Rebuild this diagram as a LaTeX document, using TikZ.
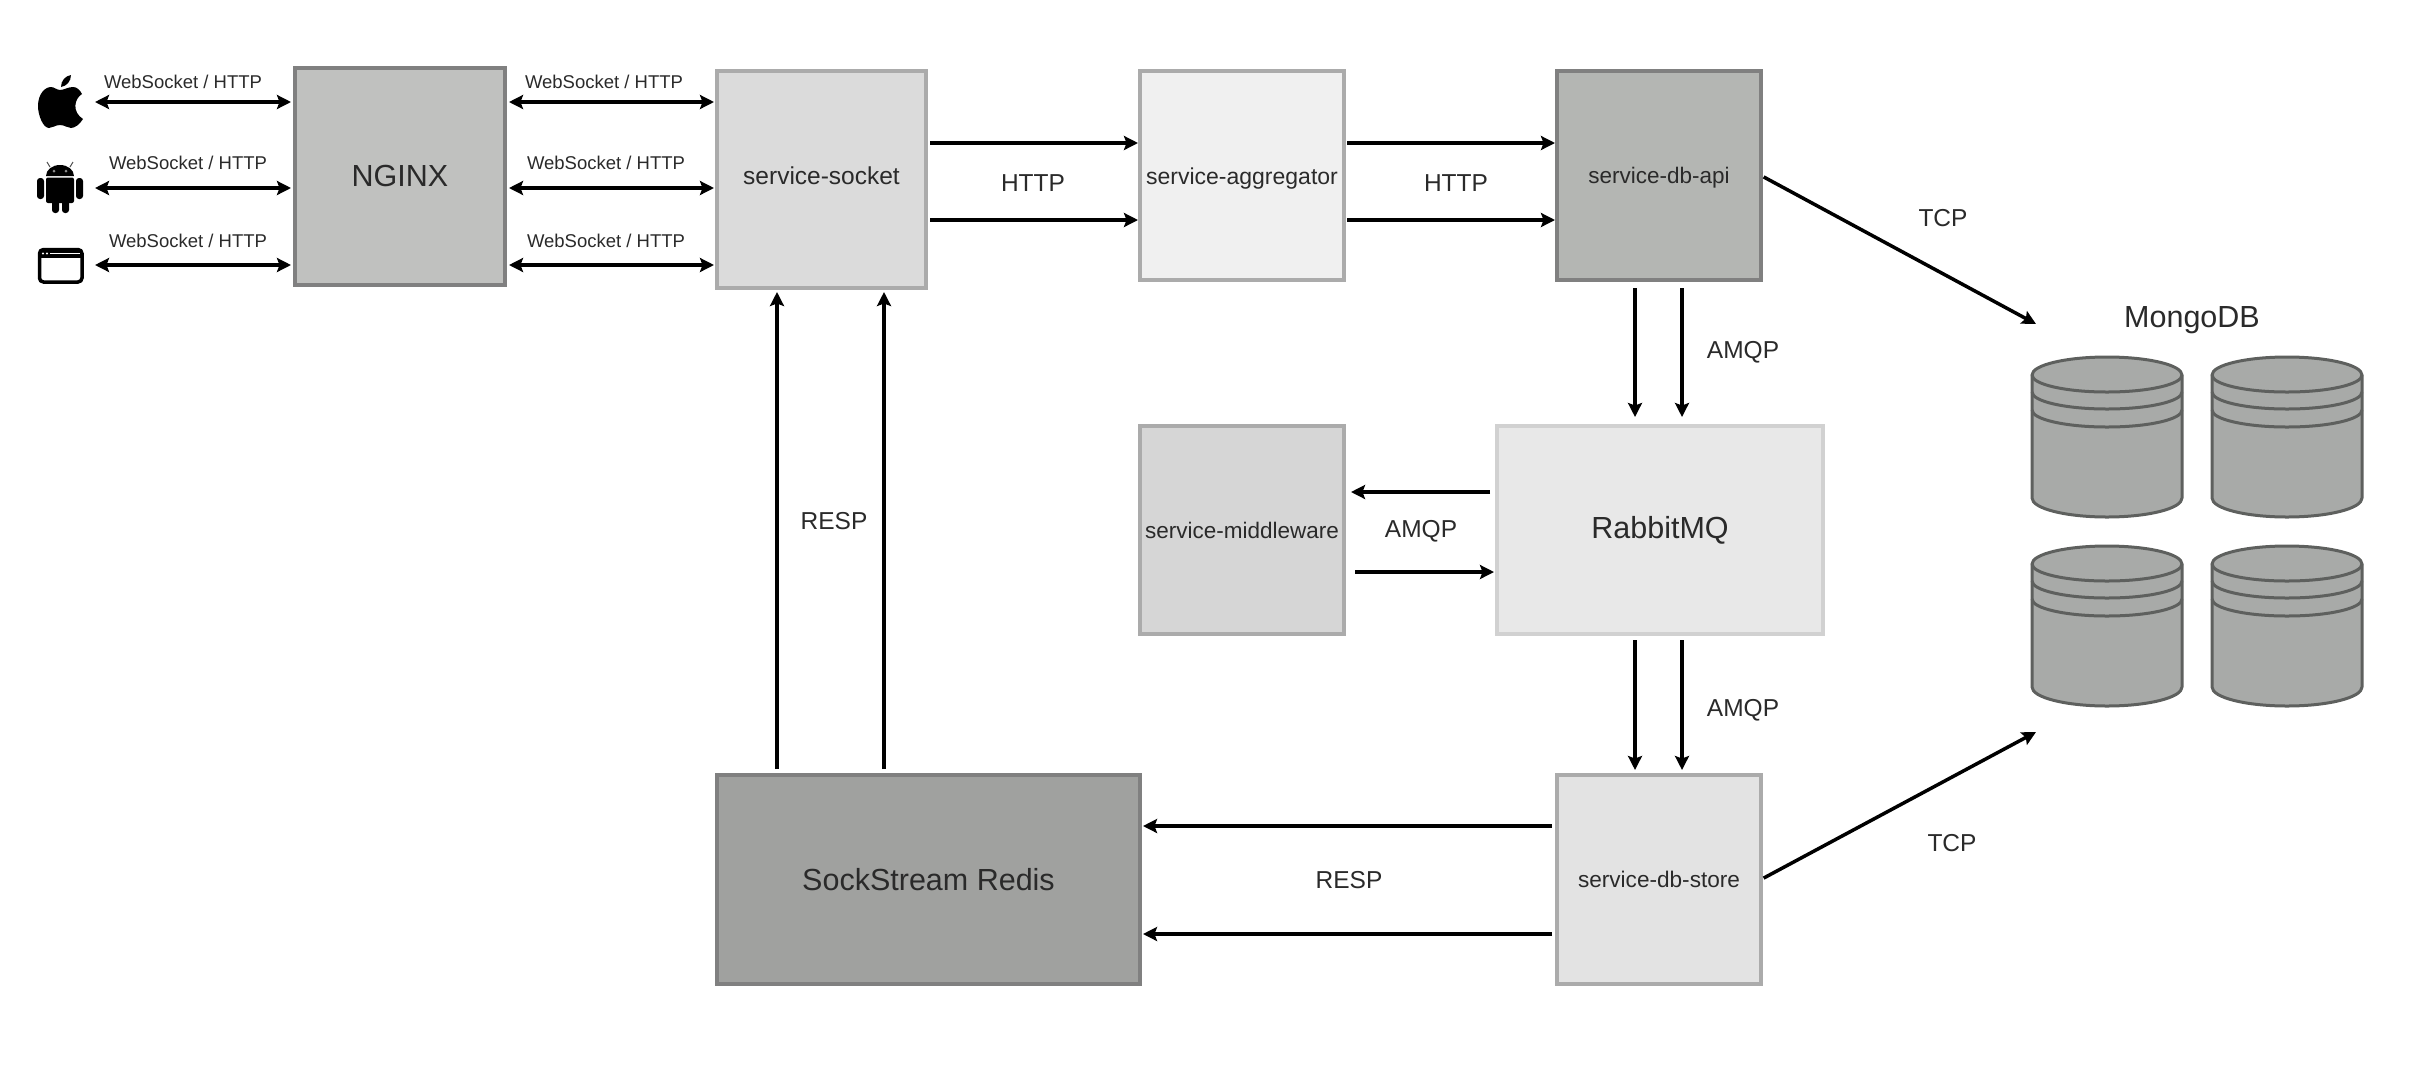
\documentclass[tikz,border=0pt]{standalone}
\usepackage{fontspec}
\setmainfont{Liberation Sans}
\usetikzlibrary{arrows.meta}
\definecolor{ink}{HTML}{2A2A2A}
\definecolor{cylfill}{HTML}{A8AAA8}
\definecolor{cylline}{HTML}{5E605E}
\tikzset{
  x=1pt,y=-1pt,
  box/.style={draw,rectangle,line width=3.5pt,outer sep=0pt,inner sep=0pt,text=ink},
  big/.style={font=\fontsize{30.5}{36}\selectfont},
  lab/.style={inner sep=0pt,text=ink,font=\fontsize{24.5}{28}\selectfont},
  wlab/.style={inner sep=0pt,text=ink,font=\fontsize{18.5}{22}\selectfont},
  tipa/.tip={Stealth[length=14pt,width=14pt,inset=2.5pt]},
  arr/.style={line width=3.5pt,black,-tipa},
  darr/.style={line width=3.5pt,black,tipa-tipa},
  dbcyl/.pic={
    \path[fill=cylfill,draw=cylline,line width=3pt,line join=round]
      (0,18) -- (0,141) arc[start angle=180,end angle=360,x radius=75pt,y radius=19pt]
      -- (150,18) arc[start angle=0,end angle=180,x radius=75pt,y radius=18pt] -- cycle;
    \draw[cylline,line width=3pt] (0,18) arc[start angle=180,end angle=360,x radius=75pt,y radius=17pt];
    \draw[cylline,line width=3pt] (0,35) arc[start angle=180,end angle=360,x radius=75pt,y radius=17pt];
    \draw[cylline,line width=3pt] (0,53) arc[start angle=180,end angle=360,x radius=75pt,y radius=17pt];
  }
}
\begin{document}
\begin{tikzpicture}
\useasboundingbox (0,0) rectangle (2412,1072);

% boxes
\node[box,big,draw={rgb:black,1;white,1},fill={rgb,255:red,192;green,193;blue,191},text height=22pt,text depth=3pt,minimum width=210pt,minimum height=217pt] (nginx) at (400,176.5) {NGINX};
\node[box,draw=black!33,fill=black!14,font=\fontsize{24.5}{28}\selectfont,text height=17.5pt,text depth=8pt,minimum width=209pt,minimum height=217pt] (sock) at (821.5,179.5) {service-socket};
\node[box,draw=black!33,fill=black!6,font=\fontsize{23}{28}\selectfont,text height=23.5pt,text depth=5pt,minimum width=204pt,minimum height=209pt] (agg) at (1242,175.5) {service-aggregator};
\node[box,draw=black!50,fill={rgb,255:red,180;green,182;blue,179},font=\fontsize{22.5}{28}\selectfont,text height=21pt,text depth=5pt,minimum width=204pt,minimum height=209pt] (api) at (1659,175.5) {service-db-api};
\node[box,big,draw=black!18,fill=black!9,minimum width=326pt,minimum height=208pt] (rabbit) at (1660,530) {RabbitMQ};
\node[box,draw=black!33,fill=black!16,font=\fontsize{22.5}{28}\selectfont,minimum width=204pt,minimum height=208pt] (mid) at (1242,530) {service-middleware};
\node[box,big,draw=black!50,fill={rgb,255:red,160;green,161;blue,159},minimum width=423pt,minimum height=209pt] (redis) at (928.5,879.5) {SockStream Redis};
\node[box,draw=black!33,fill=black!11,font=\fontsize{22.6}{28}\selectfont,minimum width=204pt,minimum height=209pt] (store) at (1659,879.5) {service-db-store};

% free-end coordinates
\coordinate (ios) at (95,102);
\coordinate (android) at (95,188);
\coordinate (web) at (95,265);
\coordinate (h1) at (0,143);
\coordinate (h2) at (0,220);
\coordinate (v1) at (1635,0);
\coordinate (v2) at (1682,0);
\coordinate (m1) at (0,492);
\coordinate (m2) at (0,572);
\coordinate (r1) at (777,0);
\coordinate (r2) at (884,0);
\coordinate (s1) at (0,826);
\coordinate (s2) at (0,934);
\coordinate (mongoA) at (2036,324);
\coordinate (mongoB) at (2036,732);

% client <-> nginx <-> socket
\foreach \c in {ios,android,web}{
  \draw[darr,shorten >=4pt] (\c) -- (\c -| nginx.west);
  \draw[darr,shorten <=4pt,shorten >=3pt] (\c -| nginx.east) -- (\c -| sock.west);
}
\node[wlab] (w1) at (183,82) {WebSocket / HTTP};
\node[wlab] (w2) at (188,163) {WebSocket / HTTP};
\node[wlab] (w3) at (188,241) {WebSocket / HTTP};
\node[wlab] (w4) at (604,82) {WebSocket / HTTP};
\node[wlab] (w5) at (606,163) {WebSocket / HTTP};
\node[wlab] (w6) at (606,241) {WebSocket / HTTP};

% http
\foreach \c in {h1,h2}{
  \draw[arr,shorten <=4pt,shorten >=2pt] (\c -| sock.east) -- (\c -| agg.west);
  \draw[arr,shorten <=3pt,shorten >=2pt] (\c -| agg.east) -- (\c -| api.west);
}
\node[lab] (l1) at (1033,183) {HTTP};
\node[lab] (l2) at (1456,183) {HTTP};

% amqp
\foreach \c in {v1,v2}{
  \draw[arr,shorten <=8pt,shorten >=9pt] (\c |- api.south) -- (\c |- rabbit.north);
  \draw[arr,shorten <=6pt,shorten >=5pt] (\c |- rabbit.south) -- (\c |- store.north);
}
\node[lab] (l3) at (1743,352) {AMQP};
\node[lab] (l4) at (1743,710) {AMQP};
\draw[arr,shorten <=7pt,shorten >=7pt] (m1 -| rabbit.west) -- (m1 -| mid.east);
\draw[arr,shorten <=11pt,shorten >=3pt] (m2 -| mid.east) -- (m2 -| rabbit.west);
\node[lab] (l5) at (1421,531) {AMQP};

% resp
\foreach \c in {r1,r2}{
  \draw[arr,shorten <=6pt,shorten >=4pt] (\c |- redis.north) -- (\c |- sock.south);
}
\node[lab] (l6) at (834,521) {RESP};
\foreach \c in {s1,s2}{
  \draw[arr,shorten <=5pt,shorten >=3pt] (\c -| store.west) -- (\c -| redis.east);
}
\node[lab] (l7) at (1349,880) {RESP};

% tcp
\draw[arr,shorten <=3pt] (api.east) -- (mongoA);
\draw[arr,shorten <=3pt] (store.east) -- (mongoB);
\node[lab] (l8) at (1943,218) {TCP};
\node[lab] (l9) at (1952,843) {TCP};

% mongo
\node[inner sep=0pt,text=ink,font=\fontsize{30.5}{36}\selectfont] (mongo) at (2192,320) {MongoDB};
\pic at (2032,357) {dbcyl};
\pic at (2212,357) {dbcyl};
\pic at (2032,546) {dbcyl};
\pic at (2212,546) {dbcyl};

% apple icon
\fill[black] (60,90) .. controls (64,90) and (68,87) .. (73,87)
  .. controls (77,87) and (80,90) .. (82,94)
  .. controls (74,99) and (72,112) .. (83,119)
  .. controls (80,124) and (75,128) .. (71,128)
  .. controls (67,128) and (65,125) .. (60,125)
  .. controls (55,125) and (53,128) .. (49,128)
  .. controls (43,128) and (38,115) .. (38,106)
  .. controls (38,94) and (45,87) .. (51,87)
  .. controls (54,87) and (57,90) .. (60,90) -- cycle;
\fill[black] (61,87) .. controls (61,81) and (65,76) .. (71,75)
  .. controls (71,81) and (67,86) .. (61,87) -- cycle;

% android icon
\fill[black] (46,176) .. controls (46,170) and (52,165) .. (60,165)
  .. controls (68,165) and (74,170) .. (74,176) -- cycle;
\draw[black!70,line width=1pt] (50,167) -- (47,162) (70,167) -- (73,162);
\fill[black,rounded corners=2pt] (46,177.5) rectangle (74,203);
\fill[black,rounded corners=3pt] (37,178) rectangle (44,199);
\fill[black,rounded corners=3pt] (76,178) rectangle (83,199);
\fill[black,rounded corners=3pt] (52,198) rectangle (59,213);
\fill[black,rounded corners=3pt] (62,198) rectangle (69,213);
\fill[black!45] (54,171) circle[radius=1.5pt] (66,171) circle[radius=1.5pt];

% browser icon
\draw[black,line width=3.5pt,rounded corners=4pt] (39.5,249.5) rectangle (82,282);
\fill[black] (39.5,249.5) rectangle (82,258);
\draw[white,line width=1.5pt] (50,253.5) -- (80,253.5);
\fill[white] (43,253.5) circle[radius=1.1pt] (47,253.5) circle[radius=1.1pt];
\end{tikzpicture}
\end{document}
